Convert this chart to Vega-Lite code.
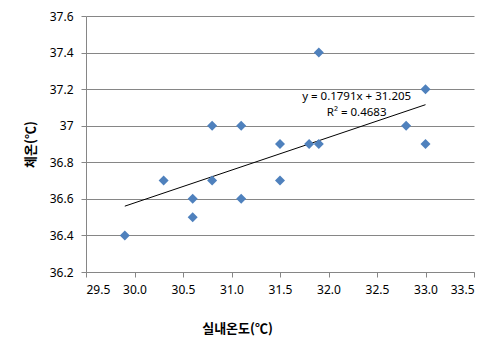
{
  "$schema": "https://vega.github.io/schema/vega-lite/v6.json",
  "width": 388,
  "height": 256,
  "autosize": "none",
  "padding": {"left": 86, "top": 16, "right": 30, "bottom": 80},
  "background": "white",
  "config": {"view": {"stroke": null}},
  "datasets": {
    "pts": [
      {"room": 29.9, "body": 36.4},
      {"room": 30.3, "body": 36.7},
      {"room": 30.6, "body": 36.6},
      {"room": 30.6, "body": 36.5},
      {"room": 30.8, "body": 37.0},
      {"room": 30.8, "body": 36.7},
      {"room": 31.1, "body": 37.0},
      {"room": 31.1, "body": 36.6},
      {"room": 31.5, "body": 36.9},
      {"room": 31.5, "body": 36.7},
      {"room": 31.8, "body": 36.9},
      {"room": 31.9, "body": 36.9},
      {"room": 31.9, "body": 37.4},
      {"room": 32.8, "body": 37.0},
      {"room": 33.0, "body": 37.2},
      {"room": 33.0, "body": 36.9}
    ],
    "trend": [
      {"room": 29.9, "body": 36.560},
      {"room": 33.0, "body": 37.115}
    ],
    "notes": [
      {"room": 32.29, "body": 37.157, "label": "y = 0.1791x + 31.205"},
      {"room": 32.29, "body": 37.07, "label": "R² = 0.4683"}
    ]
  },
  "encoding": {
    "x": {
      "field": "room", "type": "quantitative",
      "scale": {"domain": [29.5, 33.5], "nice": false, "zero": false},
      "axis": {
        "title": "실내온도(℃)",
        "values": [29.5, 30, 30.5, 31, 31.5, 32, 32.5, 33, 33.5],
        "format": ".1f",
        "grid": false,
        "domainColor": "#868686",
        "tickColor": "#868686",
        "tickSize": 5,
        "labelFont": "Noto Sans",
        "labelFontSize": 12,
        "labelColor": "#000000",
        "labelPadding": 7,
        "titleFont": "Noto Sans CJK KR",
        "titleFontSize": 13,
        "titleFontWeight": "bold",
        "titleColor": "#000000",
        "titleX": 151,
        "titleY": 56,
        "titleAlign": "center",
        "titleBaseline": "middle"
      }
    },
    "y": {
      "field": "body", "type": "quantitative",
      "scale": {"domain": [36.2, 37.6], "nice": false, "zero": false},
      "axis": {
        "title": "체온(℃)",
        "values": [36.2, 36.4, 36.6, 36.8, 37.0, 37.2, 37.4, 37.6],
        "labelExpr": "replace(format(datum.value, '.1f'), '.0', '')",
        "grid": true,
        "gridColor": "#868686",
        "gridWidth": 1,
        "domainColor": "#868686",
        "tickColor": "#868686",
        "tickSize": 5,
        "labelFont": "Noto Sans",
        "labelFontSize": 12,
        "labelColor": "#000000",
        "labelPadding": 8,
        "titleFont": "Noto Sans CJK KR",
        "titleFontSize": 13,
        "titleFontWeight": "bold",
        "titleColor": "#000000",
        "titleX": -56,
        "titleY": 128,
        "titleAlign": "center",
        "titleBaseline": "middle",
        "titleAngle": -90
      }
    }
  },
  "layer": [
    {
      "data": {"name": "trend"},
      "mark": {"type": "line", "color": "#000000", "strokeWidth": 1}
    },
    {
      "data": {"name": "pts"},
      "mark": {"type": "point", "shape": "diamond", "filled": true, "color": "#4F81BD", "opacity": 1, "size": 100}
    },
    {
      "data": {"name": "notes"},
      "mark": {"type": "text", "font": "Noto Sans", "fontSize": 11.5, "color": "#000000", "align": "center", "baseline": "middle"},
      "encoding": {"text": {"field": "label"}}
    }
  ]
}
